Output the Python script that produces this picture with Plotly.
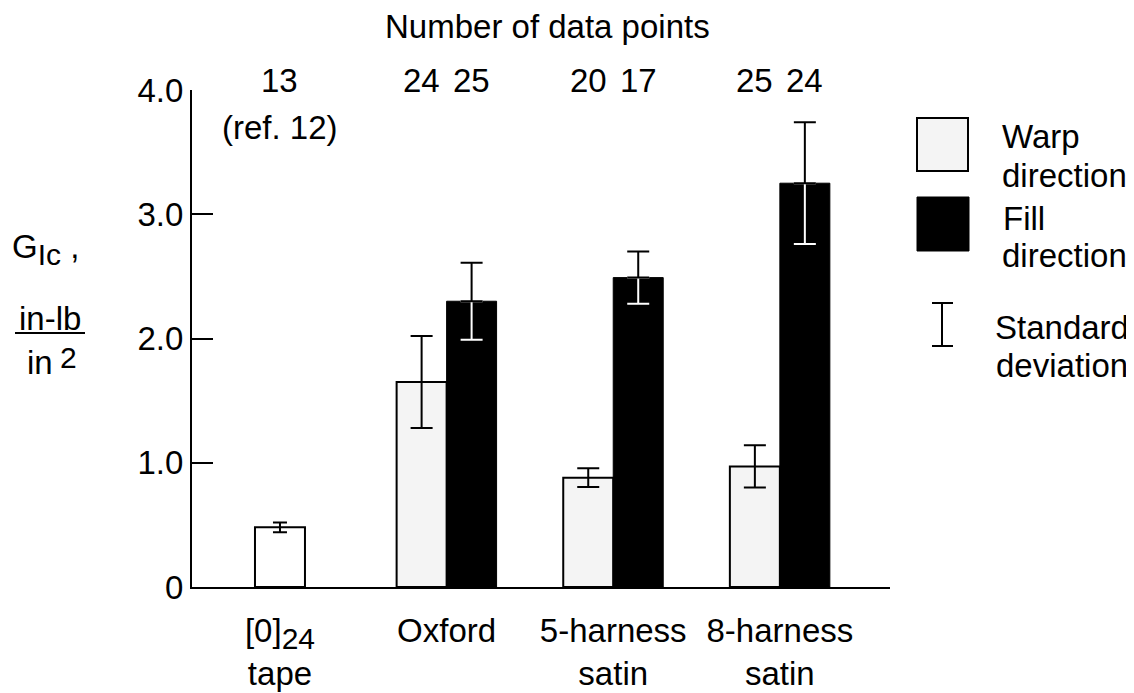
import plotly.graph_objects as go

# ---- data ----
categories = ["[0]<sub><span style=\"font-size:30px\">24</span></sub><br>tape", "Oxford",
              "5-harness<br>satin", "8-harness<br>satin"]
warp = [0.48, 1.65, 0.88, 0.97]
warp_sd = [0.04, 0.37, 0.075, 0.17]
fill = [None, 2.30, 2.49, 3.25]
fill_sd = [None, 0.31, 0.21, 0.49]
n_warp = [13, 24, 20, 25]
n_fill = [None, 25, 17, 24]
y_ticks = [0, 1, 2, 3, 4]
y_ticktext = ["0", "1.0", "2.0", "3.0", "4.0"]

FONT = "Liberation Sans, Arial, Helvetica, sans-serif"
FS = 33
W = 0.30  # bar width (axis units)

# plot area in page pixels (page has an 8 px body margin)
PX0, PX1, PY0, PY1 = 192, 890, 90, 587


def px(x):
    return (x - PX0) / (PX1 - PX0)


def py(y):
    return (PY1 - y) / (PY1 - PY0)


idx = list(range(len(categories)))
paired = [i for i in idx if fill[i] is not None]
single = [i for i in idx if fill[i] is None]

fig = go.Figure()

# single warp bar (tape)
fig.add_trace(go.Bar(
    x=[i for i in single], y=[warp[i] for i in single], width=W,
    marker=dict(color="white", line=dict(color="black", width=2)),
    error_y=dict(type="data", array=[warp_sd[i] for i in single], color="black",
                 thickness=2, width=7),
    showlegend=False, hoverinfo="skip",
))
# warp bars of the fabrics
fig.add_trace(go.Bar(
    x=[i - W / 2 for i in paired], y=[warp[i] for i in paired], width=W,
    marker=dict(color="#f4f4f4", line=dict(color="black", width=2)),
    error_y=dict(type="data", array=[warp_sd[i] for i in paired], color="black",
                 thickness=2, width=11),
    showlegend=False, hoverinfo="skip",
))
# fill bars, lower (white) half of their error bars
fig.add_trace(go.Bar(
    x=[i + W / 2 for i in paired], y=[fill[i] for i in paired], width=W,
    marker=dict(color="black", line=dict(color="black", width=1)),
    error_y=dict(type="data", symmetric=False, array=[0] * len(paired),
                 arrayminus=[fill_sd[i] for i in paired],
                 color="white", thickness=2, width=11),
    showlegend=False, hoverinfo="skip",
))
# upper (black) half of the fill error bars
fig.add_trace(go.Scatter(
    x=[i + W / 2 for i in paired], y=[fill[i] for i in paired], mode="markers",
    marker=dict(size=1, color="rgba(0,0,0,0)"),
    error_y=dict(type="data", symmetric=False, array=[fill_sd[i] for i in paired],
                 arrayminus=[0] * len(paired), color="black", thickness=2, width=11),
    showlegend=False, hoverinfo="skip",
))

tf = dict(size=FS, family=FONT, color="black")
annotations = []
y_counts = py(80)
for i in idx:
    xw = i - W / 2 if fill[i] is not None else i
    annotations.append(dict(x=xw, y=y_counts, xref="x", yref="paper", text=str(n_warp[i]),
                            showarrow=False, font=tf, yanchor="middle"))
    if n_fill[i] is not None:
        annotations.append(dict(x=i + W / 2, y=y_counts, xref="x", yref="paper",
                                text=str(n_fill[i]), showarrow=False, font=tf, yanchor="middle"))
annotations.append(dict(x=single[0], y=py(127), xref="x", yref="paper", text="(ref. 12)",
                        showarrow=False, font=tf, yanchor="middle"))
annotations.append(dict(x=px(383), y=py(26), xref="paper", yref="paper",
                        text="Number of data points", showarrow=False, font=tf,
                        xanchor="left", yanchor="middle"))

# y-axis title: G_Ic , in-lb / in^2
annotations.append(dict(x=px(10), y=py(249), xref="paper", yref="paper",
                        text="G<sub><span style=\"font-size:30px\">Ic</span></sub> ,",
                        showarrow=False, xanchor="left", yanchor="middle", font=tf))
annotations.append(dict(x=px(50), y=py(318), xref="paper", yref="paper", text="in-lb",
                        showarrow=False, xanchor="center", yanchor="middle", font=tf))
annotations.append(dict(x=px(55), y=py(362), xref="paper", yref="paper", text="in",
                        showarrow=False, xanchor="right", yanchor="middle", font=tf))
annotations.append(dict(x=px(58), y=py(357), xref="paper", yref="paper", text="2",
                        showarrow=False, xanchor="left", yanchor="middle",
                        font=dict(size=30, family=FONT, color="black")))

# legend texts (one annotation per line)
for txt, xl, yc in [("Warp", 1000, 137), ("direction", 1000, 175),
                    ("Fill", 1001, 218), ("direction", 1000, 256),
                    ("Standard", 993, 327), ("deviation", 994, 365)]:
    annotations.append(dict(x=px(xl), y=py(yc), xref="paper", yref="paper", text=txt,
                            showarrow=False, xanchor="left", yanchor="middle", font=tf))

shapes = [
    # fraction line of the unit
    dict(type="line", xref="paper", yref="paper", x0=px(15), x1=px(85), y0=py(333), y1=py(333),
         line=dict(color="black", width=2)),
    # legend boxes
    dict(type="rect", xref="paper", yref="paper", x0=px(917), x1=px(968), y0=py(171), y1=py(118),
         line=dict(color="black", width=2), fillcolor="#f4f4f4"),
    dict(type="rect", xref="paper", yref="paper", x0=px(917), x1=px(969), y0=py(251), y1=py(197),
         line=dict(color="black", width=1), fillcolor="black"),
    # legend error-bar symbol
    dict(type="line", xref="paper", yref="paper", x0=px(942), x1=px(942), y0=py(303), y1=py(346),
         line=dict(color="black", width=2)),
    dict(type="line", xref="paper", yref="paper", x0=px(932), x1=px(953), y0=py(303), y1=py(303),
         line=dict(color="black", width=2)),
    dict(type="line", xref="paper", yref="paper", x0=px(932), x1=px(953), y0=py(346), y1=py(346),
         line=dict(color="black", width=2)),
]

FIG_W, FIG_H = 1126, 685
fig.update_layout(
    width=FIG_W, height=FIG_H,
    margin=dict(l=PX0 - 8, r=FIG_W - (PX1 - 8), t=PY0 - 8, b=FIG_H - (PY1 - 8),
                autoexpand=False),
    paper_bgcolor="white", plot_bgcolor="white",
    font=tf,
    barmode="overlay",
    annotations=annotations,
    shapes=shapes,
    xaxis=dict(
        range=[-0.528, 3.661], tickmode="array", tickvals=idx, ticktext=categories,
        showline=True, linecolor="black", linewidth=2, ticks="", showgrid=False,
        zeroline=False, tickfont=tf, ticklabelstandoff=13, automargin=False,
    ),
    yaxis=dict(
        range=[0, 4], tickmode="array", tickvals=y_ticks, ticktext=y_ticktext,
        showline=True, linecolor="black", linewidth=2, ticks="inside", ticklen=21,
        tickwidth=2, tickcolor="black", showgrid=False, zeroline=False,
        tickfont=tf, automargin=False,
    ),
)

fig.write_html("out.html")
